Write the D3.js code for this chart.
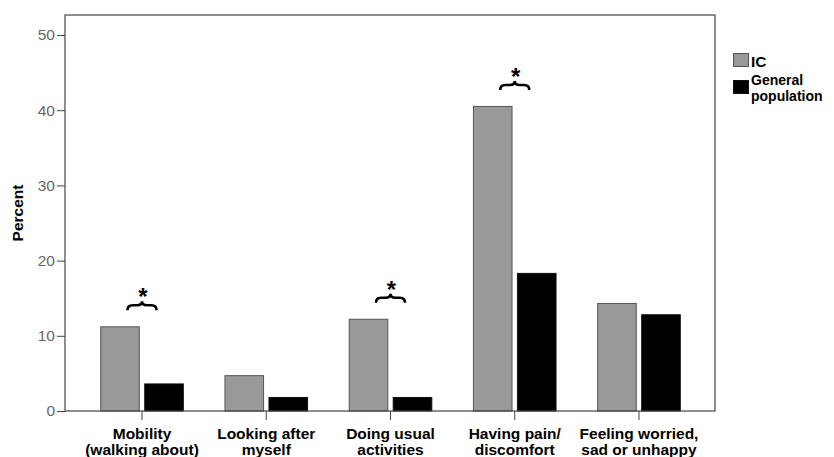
<!DOCTYPE html>
<html><head><meta charset="utf-8">
<script src="https://cdn.jsdelivr.net/npm/d3@7"></script>
<style>body{margin:0;background:#fff}svg{display:block}text{font-family:"Liberation Sans",Arial,sans-serif}</style>
</head><body>
<svg id="c" width="834" height="457"></svg>
<script>
const categories = [["Mobility","(walking about)"],["Looking after","myself"],["Doing usual","activities"],["Having pain/","discomfort"],["Feeling worried,","sad or unhappy"]];
const seriesNames = ["IC","General population"];
const icValues = [11.2, 4.7, 12.2, 40.5, 14.3];
const gpValues = [3.6, 1.8, 1.8, 18.3, 12.8];
const significant = [true, false, true, true, false];
const yTicks = [0,10,20,30,40,50];
const colors = {"IC":"#999999","General population":"#000000"};
const strokes = {"IC":"#555555","General population":"#111111"};

const svg = d3.select("#c");
const L=65, T=15, R=715, B=411;
const y = d3.scaleLinear().domain([0,52.66]).range([B,T]);
const x = d3.scaleBand().domain(d3.range(categories.length)).range([79.9,701.1]).paddingInner(0).paddingOuter(0);
const xs = d3.scaleBand().domain(seriesNames).range([-41.3,41.3]).paddingInner(0.123).paddingOuter(0);
const cx = i => x(i)+x.bandwidth()/2;

// y axis
const yAxis = d3.axisLeft(y).tickValues(yTicks).tickSize(8).tickPadding(2).tickFormat(d3.format("d"));
const gy = svg.append("g").attr("transform",`translate(${L},0)`).call(yAxis);
gy.select(".domain").remove();
gy.selectAll("line").attr("stroke","#444");
gy.selectAll("text").attr("fill","#666").style("font-size","15.5px").style("font-family","Liberation Sans, Arial, sans-serif");

// x axis ticks
const xAxis = d3.axisBottom(x).tickSize(9).tickFormat("");
const gx = svg.append("g").attr("transform",`translate(0,${B})`).call(xAxis);
gx.select(".domain").remove();
gx.selectAll("line").attr("stroke","#444");

// bars
const data = categories.map((c,i)=>({i, vals:[{s:"IC",v:icValues[i]},{s:"General population",v:gpValues[i]}]}));
const g = svg.append("g");
g.selectAll("g.grp").data(data).join("g").attr("class","grp")
 .attr("transform",d=>`translate(${cx(d.i)},0)`)
 .selectAll("rect").data(d=>d.vals).join("rect")
 .attr("x",d=>xs(d.s)).attr("width",xs.bandwidth())
 .attr("y",d=>y(d.v)).attr("height",d=>y(0)-y(d.v))
 .attr("fill",d=>colors[d.s]).attr("stroke",d=>strokes[d.s]).attr("stroke-width",1);

// frame
svg.append("rect").attr("x",L).attr("y",T).attr("width",R-L).attr("height",B-T)
 .attr("fill","none").attr("stroke","#444").attr("stroke-width",1.2);

// category labels
const lab = svg.append("g").selectAll("text").data(categories).join("text")
 .attr("text-anchor","middle").attr("font-weight","bold").style("font-size","15.5px").attr("fill","#000");
lab.each(function(d,i){
  const t=d3.select(this);
  d.forEach((line,k)=>t.append("tspan").attr("x",cx(i)).attr("y",439+k*15.5).text(line));
});

// y title
svg.append("text").attr("transform","translate(23,213) rotate(-90)").attr("text-anchor","middle")
 .attr("font-weight","bold").style("font-size","15.5px").text("Percent");

// significance braces
const sig = data.filter(d=>significant[d.i]);
sig.forEach(d=>{
  const top = y(d3.max(d.vals,v=>v.v));
  const c = cx(d.i), hw=14.5, b=top-16.5, m=b-5, t=b-9;
  const p = `M${c-hw},${b} Q${c-hw},${m} ${c-hw+5},${m} L${c-5},${m} Q${c},${m} ${c},${t} Q${c},${m} ${c+5},${m} L${c+hw-5},${m} Q${c+hw},${m} ${c+hw},${b}`;
  svg.append("path").attr("d",p).attr("fill","none").attr("stroke","#000").attr("stroke-width",2.6);
  svg.append("text").attr("x",c+1).attr("y",t+4).attr("text-anchor","middle")
   .attr("font-weight","bold").style("font-size","24px").text("*");
});

// legend
const lg = svg.append("g");
lg.append("rect").attr("x",733.5).attr("y",53.5).attr("width",15).attr("height",13).attr("fill",colors["IC"]).attr("stroke","#555");
lg.append("text").attr("x",751).attr("y",67).attr("font-weight","bold").style("font-size","15.5px").text("IC");
lg.append("rect").attr("x",733.5).attr("y",80.5).attr("width",15).attr("height",13).attr("fill",colors["General population"]).attr("stroke","#111");
lg.append("text").attr("x",751).attr("y",85).attr("font-weight","bold").style("font-size","14px").text("General");
lg.append("text").attr("x",751).attr("y",101).attr("font-weight","bold").style("font-size","14px").text("population");
</script>
</body></html>
